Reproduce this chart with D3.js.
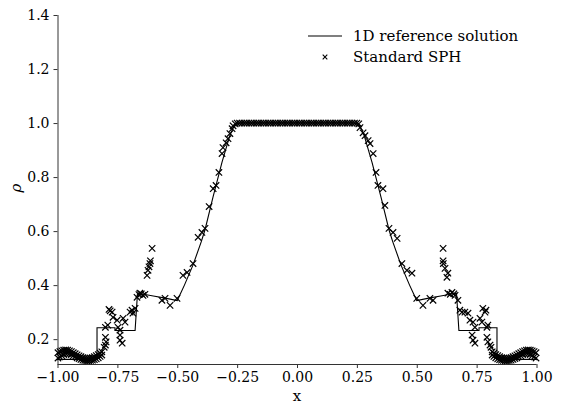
<!DOCTYPE html>
<html>
<head>
<meta charset="utf-8">
<script src="https://cdn.jsdelivr.net/npm/d3@7"></script>
<style>
  body { margin: 0; background: #fff; }
  svg { display: block; }
  text { font-family: "DejaVu Serif", serif; fill: #000; }
</style>
</head>
<body>
<svg id="chart" width="564" height="407"></svg>
<script>
// 1D reference solution (density along x)
const refX = [-1.00, -0.835, -0.835, -0.76, -0.76, -0.676, -0.666, -0.64, -0.60, -0.55, -0.50,
  -0.47, -0.434, -0.40, -0.384, -0.351, -0.313, -0.28, -0.265, -0.25, -0.235,
  0.235, 0.25, 0.265, 0.28, 0.313, 0.351, 0.384, 0.40, 0.434, 0.47,
  0.50, 0.55, 0.60, 0.64, 0.666, 0.676, 0.76, 0.76, 0.835, 0.835, 1.00];
const refRho = [0.125, 0.125, 0.242, 0.242, 0.232, 0.232, 0.370, 0.366, 0.360, 0.352, 0.343,
  0.400, 0.475, 0.560, 0.605, 0.725, 0.855, 0.955, 0.985, 0.998, 1.000,
  1.000, 0.998, 0.985, 0.955, 0.855, 0.725, 0.605, 0.560, 0.475, 0.400,
  0.343, 0.352, 0.360, 0.366, 0.370, 0.232, 0.232, 0.242, 0.242, 0.125, 0.125];

// Standard SPH particles: left tail, two rows
const tailLeftX = [-0.998, -0.990, -0.982, -0.974, -0.966, -0.958, -0.950, -0.942, -0.934, -0.926, -0.918, -0.910,
  -0.902, -0.894, -0.886, -0.878, -0.870, -0.862, -0.854, -0.846, -0.838, -0.830, -0.822, -0.815];
const tailUpper = [0.150, 0.154, 0.157, 0.159, 0.160, 0.159, 0.157, 0.154, 0.150, 0.146, 0.142, 0.138,
  0.135, 0.132, 0.130, 0.129, 0.129, 0.130, 0.132, 0.135, 0.139, 0.143, 0.148, 0.153];
const tailLower = [0.130, 0.134, 0.139, 0.143, 0.146, 0.147, 0.146, 0.143, 0.139, 0.135, 0.131, 0.128,
  0.125, 0.122, 0.121, 0.120, 0.120, 0.121, 0.122, 0.124, 0.127, 0.131, 0.136, 0.141];
const tailRightX = [0.815, 0.822, 0.830, 0.838, 0.846, 0.854, 0.862, 0.870, 0.878, 0.886, 0.894, 0.902,
  0.910, 0.918, 0.926, 0.934, 0.942, 0.950, 0.958, 0.966, 0.974, 0.982, 0.990, 0.998];
const tailRightUpper = [0.153, 0.148, 0.143, 0.139, 0.135, 0.132, 0.130, 0.129, 0.129, 0.130, 0.132, 0.135,
  0.138, 0.142, 0.146, 0.150, 0.154, 0.157, 0.159, 0.160, 0.159, 0.157, 0.154, 0.150];
const tailRightLower = [0.141, 0.136, 0.131, 0.127, 0.124, 0.122, 0.121, 0.120, 0.120, 0.121, 0.122, 0.125,
  0.128, 0.131, 0.135, 0.139, 0.143, 0.146, 0.147, 0.146, 0.143, 0.139, 0.134, 0.130];

// SPH particles: shock / contact region and rarefaction, left side
const midLeftX = [-0.805, -0.800, -0.797, -0.800, -0.800, -0.790, -0.785, -0.780, -0.772, -0.768, -0.751, -0.747,
  -0.739, -0.739, -0.739, -0.730, -0.726, -0.718, -0.697, -0.689, -0.685, -0.676, -0.668, -0.660, -0.656, -0.650,
  -0.643, -0.635, -0.626, -0.622, -0.618, -0.614, -0.612, -0.605, -0.564, -0.551, -0.530, -0.501,
  -0.476, -0.459, -0.434, -0.413, -0.397, -0.384, -0.367, -0.350, -0.338, -0.326, -0.313, -0.309,
  -0.296, -0.288, -0.280, -0.271, -0.267, -0.258];
const midLeftRho = [0.170, 0.178, 0.190, 0.207, 0.244, 0.252, 0.310, 0.305, 0.300, 0.281, 0.270, 0.244,
  0.233, 0.215, 0.196, 0.185, 0.277, 0.263, 0.300, 0.307, 0.296, 0.314, 0.355, 0.365, 0.370, 0.368,
  0.362, 0.366, 0.436, 0.455, 0.468, 0.480, 0.490, 0.536, 0.344, 0.351, 0.325, 0.351,
  0.436, 0.447, 0.480, 0.577, 0.595, 0.610, 0.691, 0.757, 0.769, 0.817, 0.887, 0.909,
  0.927, 0.942, 0.961, 0.979, 0.990, 0.997];

// SPH particles: right side
const midRightX = [0.258, 0.263, 0.276, 0.284, 0.297, 0.305, 0.318, 0.330, 0.338, 0.359, 0.367, 0.384,
  0.401, 0.418, 0.438, 0.459, 0.480, 0.500, 0.526, 0.555, 0.568,
  0.610, 0.610, 0.611, 0.618, 0.630, 0.626, 0.630, 0.640, 0.647, 0.655, 0.660, 0.672,
  0.680, 0.689, 0.701, 0.714, 0.722, 0.735, 0.743, 0.731, 0.735, 0.743, 0.764, 0.772,
  0.776, 0.785, 0.789, 0.793, 0.797, 0.793, 0.797, 0.806, 0.810];
const midRightRho = [0.997, 0.983, 0.964, 0.953, 0.935, 0.924, 0.887, 0.817, 0.769, 0.757, 0.695, 0.610,
  0.595, 0.573, 0.480, 0.455, 0.444, 0.351, 0.325, 0.351, 0.344,
  0.536, 0.490, 0.480, 0.462, 0.444, 0.429, 0.370, 0.366, 0.373, 0.368, 0.362, 0.344,
  0.307, 0.300, 0.300, 0.296, 0.270, 0.263, 0.244, 0.215, 0.196, 0.185, 0.277, 0.263,
  0.314, 0.300, 0.307, 0.244, 0.252, 0.207, 0.190, 0.178, 0.170];

// SPH particles on the central plateau
const plateauX = [-0.25, -0.24, -0.23, -0.22, -0.21, -0.20, -0.19, -0.18, -0.17, -0.16, -0.15, -0.14, -0.13,
  -0.12, -0.11, -0.10, -0.09, -0.08, -0.07, -0.06, -0.05, -0.04, -0.03, -0.02, -0.01, 0.00,
  0.01, 0.02, 0.03, 0.04, 0.05, 0.06, 0.07, 0.08, 0.09, 0.10, 0.11, 0.12, 0.13, 0.14, 0.15,
  0.16, 0.17, 0.18, 0.19, 0.20, 0.21, 0.22, 0.23, 0.24, 0.25];

const xTicks = [-1.00, -0.75, -0.50, -0.25, 0.00, 0.25, 0.50, 0.75, 1.00];
const yTicks = [0.2, 0.4, 0.6, 0.8, 1.0, 1.2, 1.4];
const legendLabels = ["1D reference solution", "Standard SPH"];

let sph = [];
tailLeftX.forEach((x, i) => { sph.push([x, tailUpper[i]]); sph.push([x, tailLower[i]]); });
tailRightX.forEach((x, i) => { sph.push([x, tailRightUpper[i]]); sph.push([x, tailRightLower[i]]); });
midLeftX.forEach((x, i) => sph.push([x, midLeftRho[i]]));
midRightX.forEach((x, i) => sph.push([x, midRightRho[i]]));
plateauX.forEach(x => sph.push([x, 1.0]));

const svg = d3.select("#chart");

const x = d3.scaleLinear().domain([-1, 1]).range([57.5, 536.5]);
const y = d3.scaleLinear().domain([0.108, 1.4]).range([364, 15]);

// axes (left and bottom spines only)
const xAxis = svg.append("g")
    .attr("transform", "translate(0,364)")
    .call(d3.axisBottom(x).tickValues(xTicks).tickFormat(d3.format(".2f")).tickSize(4).tickPadding(4));
const yAxis = svg.append("g")
    .attr("transform", "translate(57.5,0)")
    .call(d3.axisLeft(y).tickValues(yTicks).tickFormat(d3.format(".1f")).tickSize(4).tickPadding(4));

[xAxis, yAxis].forEach(g => {
    g.select(".domain").attr("stroke", "#333").attr("stroke-width", 1);
    g.selectAll(".tick line").attr("stroke", "#333");
    g.selectAll(".tick text").style("font-family", "DejaVu Serif, serif").style("font-size", "14px").attr("fill", "#000");
});
// domain path has outer ticks by default; strip them
xAxis.select(".domain").attr("d", "M57.5,0.5H536.5");
yAxis.select(".domain").attr("d", "M0.5,364V15");

// reference line
const line = d3.line().x(d => x(d[0])).y(d => y(d[1]));
svg.append("path")
    .datum(refX.map((v, i) => [v, refRho[i]]))
    .attr("d", line)
    .attr("fill", "none")
    .attr("stroke", "#000")
    .attr("stroke-width", 1.1);

// SPH markers
const cross = r => `M${-r},${-r}L${r},${r}M${-r},${r}L${r},${-r}`;
svg.append("g")
    .selectAll("path")
    .data(sph)
    .join("path")
    .attr("transform", d => `translate(${x(d[0])},${y(d[1])})`)
    .attr("d", cross(3.2))
    .attr("fill", "none")
    .attr("stroke", "#000")
    .attr("stroke-width", 1.2);

// axis labels
svg.append("text")
    .attr("x", 297).attr("y", 401)
    .attr("text-anchor", "middle")
    .style("font-size", "15px")
    .text("x");
svg.append("text")
    .attr("transform", "translate(21,188) rotate(-90)")
    .attr("text-anchor", "middle")
    .style("font-size", "15px")
    .style("font-style", "italic")
    .text("ρ");

// legend
const legend = svg.append("g").attr("transform", "translate(308,36)");
legend.append("line")
    .attr("x1", 0).attr("x2", 34).attr("y1", 0).attr("y2", 0)
    .attr("stroke", "#000").attr("stroke-width", 1.1);
legend.append("path")
    .attr("transform", "translate(17,21)")
    .attr("d", cross(2.3))
    .attr("stroke", "#000").attr("stroke-width", 1.1);
legend.selectAll("text.lab")
    .data(legendLabels)
    .join("text")
    .attr("class", "lab")
    .attr("x", 45)
    .attr("y", (d, i) => i * 21 + 5)
    .style("font-size", "15px")
    .text(d => d);
</script>
</body>
</html>
